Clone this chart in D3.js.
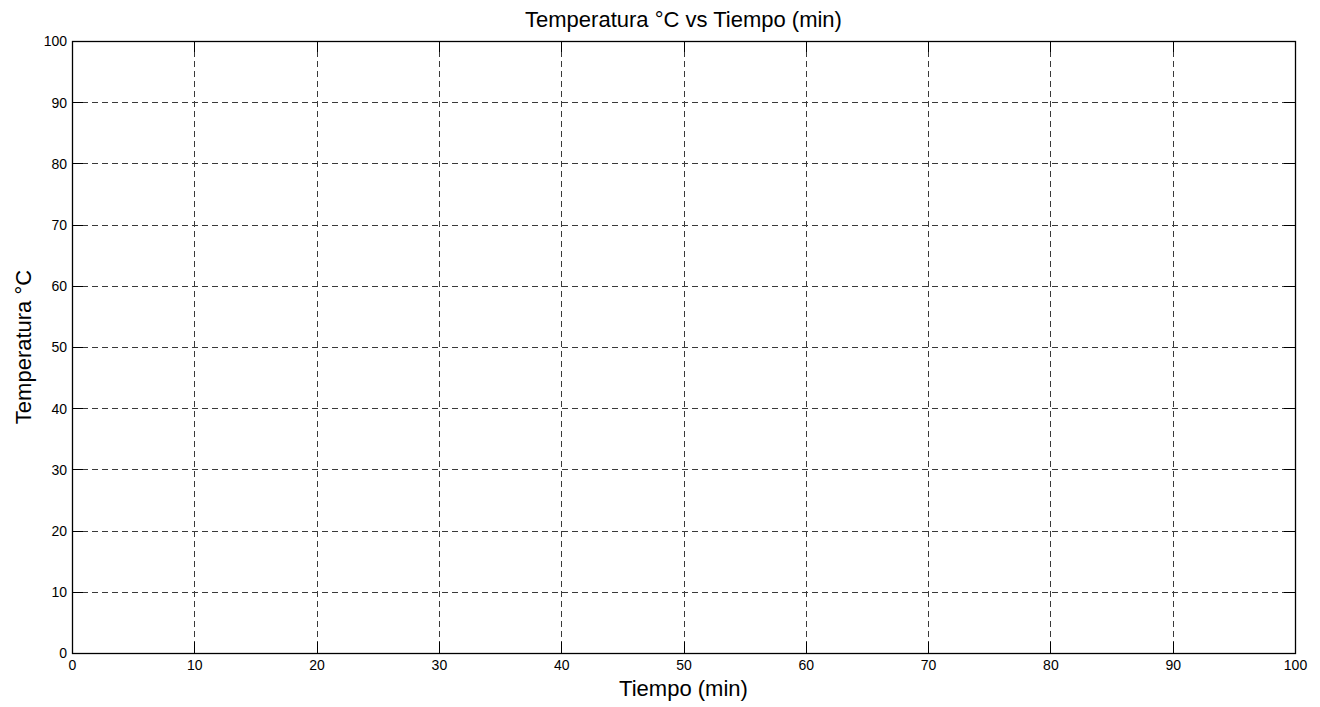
<!DOCTYPE html>
<html>
<head>
<meta charset="utf-8">
<script src="https://cdn.jsdelivr.net/npm/d3@7"></script>
<style>
  html, body { margin: 0; padding: 0; background: #fff; }
  svg { display: block; font-family: "Liberation Sans", Arial, Helvetica, sans-serif; }
</style>
</head>
<body>
<svg id="chart" width="1320" height="707"></svg>
<script>
// Axis limits and ticks
const xDomain = [0, 100];
const yDomain = [0, 100];
const xTickValues = [0, 10, 20, 30, 40, 50, 60, 70, 80, 90, 100];
const yTickValues = [0, 10, 20, 30, 40, 50, 60, 70, 80, 90, 100];

// Measured series (no samples recorded yet)
const tiempo = [];
const temperatura = [];

const titleText = "Temperatura °C vs Tiempo (min)";
const xLabelText = "Tiempo (min)";
const yLabelText = "Temperatura °C";

const W = 1320, H = 707;
const plot = { left: 72, top: 41, right: 1295, bottom: 653 };
const tickLen = 11;

const svg = d3.select("#chart");

const x = d3.scaleLinear().domain(xDomain).range([plot.left, plot.right]);
const y = d3.scaleLinear().domain(yDomain).range([plot.bottom, plot.top]);

const px = v => Math.round(v) + 0.5;

// Grid lines
const grid = svg.append("g").attr("stroke", "#3a3a3a").attr("stroke-width", 1)
  .attr("stroke-dasharray", "6,4").attr("fill", "none");
grid.selectAll("line.vx").data(xTickValues).join("line")
  .attr("x1", d => px(x(d))).attr("x2", d => px(x(d)))
  .attr("y1", plot.top).attr("y2", plot.bottom);
grid.selectAll("line.hy").data(yTickValues).join("line")
  .attr("y1", d => px(y(d))).attr("y2", d => px(y(d)))
  .attr("x1", plot.left).attr("x2", plot.right);

// Series line
const line = d3.line().x((d, i) => x(tiempo[i])).y(d => y(d));
svg.append("path").datum(temperatura)
  .attr("fill", "none").attr("stroke", "#0000ff").attr("stroke-width", 1)
  .attr("d", line);

// Ticks pointing inward on all four sides
const ticks = svg.append("g").attr("stroke", "#000").attr("stroke-width", 1);
xTickValues.forEach(v => {
  const xx = px(x(v));
  ticks.append("line").attr("x1", xx).attr("x2", xx).attr("y1", plot.bottom).attr("y2", plot.bottom - tickLen);
  ticks.append("line").attr("x1", xx).attr("x2", xx).attr("y1", plot.top).attr("y2", plot.top + tickLen);
});
yTickValues.forEach(v => {
  const yy = px(y(v));
  ticks.append("line").attr("x1", plot.left).attr("x2", plot.left + tickLen).attr("y1", yy).attr("y2", yy);
  ticks.append("line").attr("x1", plot.right).attr("x2", plot.right - tickLen).attr("y1", yy).attr("y2", yy);
});

// Axes box
svg.append("rect")
  .attr("x", px(plot.left)).attr("y", px(plot.top))
  .attr("width", Math.round(plot.right) - Math.round(plot.left))
  .attr("height", Math.round(plot.bottom) - Math.round(plot.top))
  .attr("fill", "none").attr("stroke", "#000").attr("stroke-width", 1.3);

// Tick labels
const xAxis = d3.axisBottom(x).tickValues(xTickValues).tickSize(0).tickPadding(0);
const gx = svg.append("g").attr("transform", `translate(0,${plot.bottom})`).call(xAxis);
gx.select(".domain").remove();
gx.selectAll("text").attr("y", 17).attr("dy", null)
  .attr("font-size", 14).attr("fill", "#000")
  .attr("font-family", "'Liberation Sans', Arial, sans-serif");

const yAxis = d3.axisLeft(y).tickValues(yTickValues).tickSize(0).tickPadding(0);
const gy = svg.append("g").attr("transform", `translate(${plot.left},0)`).call(yAxis);
gy.select(".domain").remove();
gy.selectAll("text").attr("x", -5).attr("dy", "0.35em")
  .attr("font-size", 14).attr("fill", "#000")
  .attr("font-family", "'Liberation Sans', Arial, sans-serif");

// Title and axis labels
svg.append("text")
  .attr("x", (plot.left + plot.right) / 2).attr("y", 27)
  .attr("text-anchor", "middle").attr("font-size", 22).attr("fill", "#000")
  .text(titleText);

svg.append("text")
  .attr("x", (plot.left + plot.right) / 2).attr("y", 696)
  .attr("text-anchor", "middle").attr("font-size", 22).attr("fill", "#000")
  .text(xLabelText);

svg.append("text")
  .attr("transform", `translate(31,${(plot.top + plot.bottom) / 2}) rotate(-90)`)
  .attr("text-anchor", "middle").attr("font-size", 22).attr("fill", "#000")
  .text(yLabelText);
</script>
</body>
</html>
